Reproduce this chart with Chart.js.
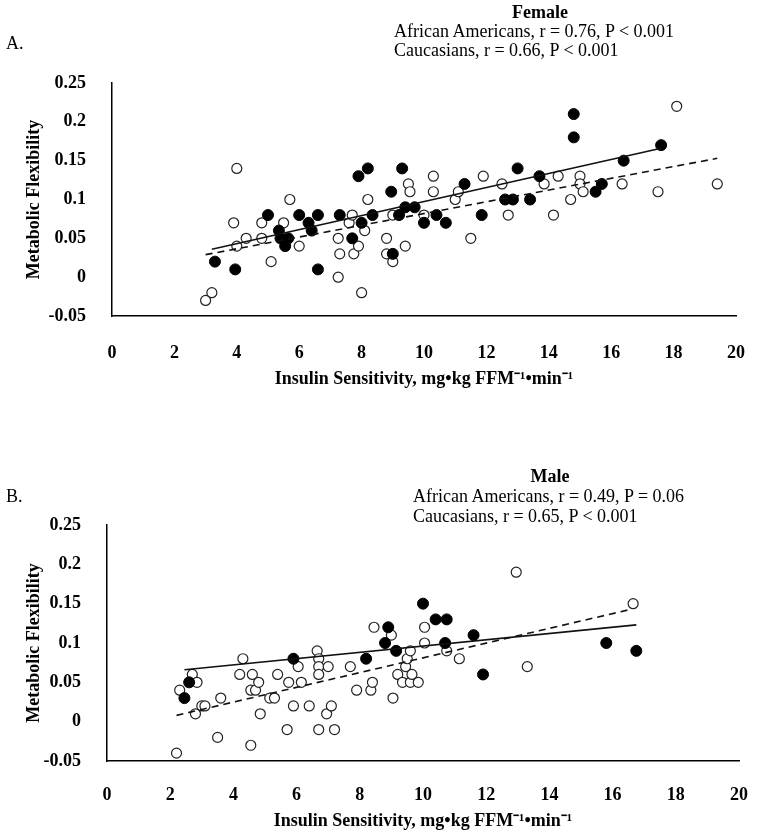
<!DOCTYPE html>
<html><head><meta charset="utf-8">
<script src="https://cdn.jsdelivr.net/npm/chart.js@4"></script>
<style>
body{margin:0;background:#fff;width:764px;height:836px;position:relative;overflow:hidden;font-family:"Liberation Serif","Times New Roman",serif;color:#000}
canvas{position:absolute;left:0}
.t{position:absolute;white-space:nowrap;font-size:18px;line-height:20px}
.c{transform:translateX(-50%);font-weight:bold}
</style></head><body>
<canvas id="cA" width="764" height="410" style="top:0"></canvas>
<canvas id="cB" width="764" height="426" style="top:410px"></canvas>
<div class="t c" style="left:540px;top:2px">Female</div>
<div class="t" style="left:394px;top:21px">African Americans, r = 0.76, P &lt; 0.001</div>
<div class="t" style="left:394px;top:40px">Caucasians, r = 0.66, P &lt; 0.001</div>
<div class="t" style="left:6px;top:33px">A.</div>
<div class="t c" style="left:550px;top:466px">Male</div>
<div class="t" style="left:413px;top:486px">African Americans, r = 0.49, P = 0.06</div>
<div class="t" style="left:413px;top:506px">Caucasians, r = 0.65, P &lt; 0.001</div>
<div class="t" style="left:6px;top:486px">B.</div>
<script>
// Female panel
const femaleAA_x = [3.3,3.95,5.0,6.0,6.6,6.3,5.35,6.4,5.65,5.4,5.55,6.6,7.3,7.9,8.2,9.3,8.95,8.35,8.0,7.7,9.2,9.4,9.7,10.0,10.4,10.7,11.3,11.85,12.6,12.85,9.0,13.0,13.4,13.7,14.8,14.8,15.5,15.7,16.4,17.6];
const femaleAA_y = [0.02,0.01,0.08,0.08,0.08,0.07,0.06,0.06,0.05,0.05,0.04,0.01,0.08,0.13,0.14,0.14,0.11,0.08,0.07,0.05,0.08,0.09,0.09,0.07,0.08,0.07,0.12,0.08,0.10,0.10,0.03,0.14,0.10,0.13,0.21,0.18,0.11,0.12,0.15,0.17];
const femaleC_x = [3.0,3.2,3.9,4.0,4.0,4.3,4.8,4.8,5.1,5.5,5.7,6.0,7.25,7.25,7.3,7.6,7.7,7.75,7.9,8.0,8.1,8.2,8.8,8.8,9.0,9.0,9.4,9.5,9.55,10.0,10.3,10.3,11.0,11.1,11.5,11.9,12.5,12.7,13.85,14.15,14.3,14.7,15.0,15.0,15.1,16.35,17.5,18.1,19.4];
const femaleC_y = [-0.03,-0.02,0.07,0.14,0.04,0.05,0.07,0.05,0.02,0.07,0.10,0.04,0.05,0.0,0.03,0.07,0.08,0.03,0.04,-0.02,0.06,0.10,0.05,0.03,0.08,0.02,0.04,0.12,0.11,0.08,0.13,0.11,0.10,0.11,0.05,0.13,0.12,0.08,0.12,0.08,0.13,0.10,0.13,0.12,0.11,0.12,0.11,0.22,0.12];
const femaleAA_fit_x = [3.2,17.6], femaleAA_fit_y = [0.036,0.166];
const femaleC_fit_x = [3.0,19.4], femaleC_fit_y = [0.029,0.153];
// Male panel
const maleAA_x = [2.45,2.6,5.9,8.2,8.8,8.9,9.15,10.0,10.4,10.75,10.7,11.6,11.9,15.8,16.75];
const maleAA_y = [0.03,0.05,0.08,0.08,0.10,0.12,0.09,0.15,0.13,0.13,0.10,0.11,0.06,0.10,0.09];
const maleC_x = [2.2,2.3,2.7,2.85,2.8,3.0,3.1,3.5,3.6,4.2,4.3,4.55,4.55,4.6,4.7,4.8,4.85,5.15,5.3,5.4,5.7,5.75,5.9,6.05,6.15,6.4,6.65,6.7,6.7,6.7,6.7,6.95,7.0,7.1,7.2,7.7,7.9,8.35,8.4,8.45,9.0,9.05,9.2,9.35,9.45,9.5,9.6,9.6,9.65,9.85,10.05,10.05,10.75,11.15,12.95,13.3,16.65];
const maleC_y = [-0.04,0.04,0.06,0.05,0.01,0.02,0.02,-0.02,0.03,0.06,0.08,-0.03,0.04,0.06,0.04,0.05,0.01,0.03,0.03,0.06,-0.01,0.05,0.02,0.07,0.05,0.02,0.09,0.08,0.07,0.06,-0.01,0.01,0.07,0.02,-0.01,0.07,0.04,0.04,0.05,0.12,0.11,0.03,0.06,0.05,0.07,0.08,0.09,0.05,0.06,0.05,0.12,0.10,0.09,0.08,0.19,0.07,0.15];
const maleAA_fit_x = [2.45,16.75], maleAA_fit_y = [0.066,0.123];
const maleC_fit_x = [2.2,16.6], maleC_fit_y = [0.008,0.143];

const xTicks = [0,2,4,6,8,10,12,14,16,18,20];
const yTicks = [-0.05,0,0.05,0.1,0.15,0.2,0.25];
const xTitle = 'Insulin Sensitivity, mg\u2022kg FFM\u207B\u00B9\u2022min\u207B\u00B9';
const yTitle = 'Metabolic Flexibility';

const zip = (xs, ys) => xs.map((x, i) => ({x, y: ys[i]}));
const FONT = 'Liberation Serif';

function makeChart(id, aaX, aaY, cX, cY, aaFx, aaFy, cFx, cFy, g) {
  const tickFont = {family: FONT, size: 18, weight: 'bold'};
  const titleFont = {family: FONT, size: 18, weight: 'bold'};
  return new Chart(document.getElementById(id), {
    type: 'scatter',
    data: {datasets: [
      {data: zip(aaFx, aaFy), showLine: true, borderColor: '#111', borderWidth: 1.6, pointRadius: 0, fill: false},
      {data: zip(cFx, cFy), showLine: true, borderColor: '#111', borderWidth: 1.6, borderDash: [7, 5], pointRadius: 0, fill: false},
      {data: zip(aaX, aaY), pointRadius: 5.5, backgroundColor: '#000', borderColor: '#000', borderWidth: 1},
      {data: zip(cX, cY), pointRadius: 5, backgroundColor: '#fff', borderColor: '#222', borderWidth: 1.2}
    ]},
    options: {
      responsive: false, animation: false,
      layout: {padding: {top: g.top, left: 0, right: g.right, bottom: 0}},
      plugins: {legend: {display: false}, tooltip: {enabled: false}},
      scales: {
        x: {type: 'linear', min: 0, max: 20,
          afterBuildTicks: s => { s.ticks = xTicks.map(v => ({value: v})); },
          ticks: {color: '#000', font: tickFont, padding: g.xPad, maxRotation: 0, callback: v => String(v)},
          grid: {display: false}, border: {display: true, color: '#000', width: 1.5},
          title: {display: true, text: xTitle, color: '#000', font: titleFont, padding: {top: 0, bottom: g.xTitlePad}},
          afterFit: s => { s.height = g.xH; }},
        y: {type: 'linear', min: -0.05, max: 0.25,
          afterBuildTicks: s => { s.ticks = yTicks.map(v => ({value: v})); },
          ticks: {color: '#000', font: tickFont, padding: 18, callback: v => String(+v.toFixed(2))},
          grid: {display: false}, border: {display: true, color: '#000', width: 1.5},
          title: {display: true, text: yTitle, color: '#000', font: titleFont, padding: {top: 24, bottom: 0}},
          afterFit: s => { s.width = g.yW; }}
      }
    }
  });
}

makeChart('cA', femaleAA_x, femaleAA_y, femaleC_x, femaleC_y, femaleAA_fit_x, femaleAA_fit_y, femaleC_fit_x, femaleC_fit_y,
  {top: 83, right: 17, yW: 112, xH: 94, xPad: 19, xTitlePad: 20});
makeChart('cB', maleAA_x, maleAA_y, maleC_x, maleC_y, maleAA_fit_x, maleAA_fit_y, maleC_fit_x, maleC_fit_y,
  {top: 115, right: 12, yW: 107, xH: 75, xPad: 16, xTitlePad: 4});
</script>
</body></html>
